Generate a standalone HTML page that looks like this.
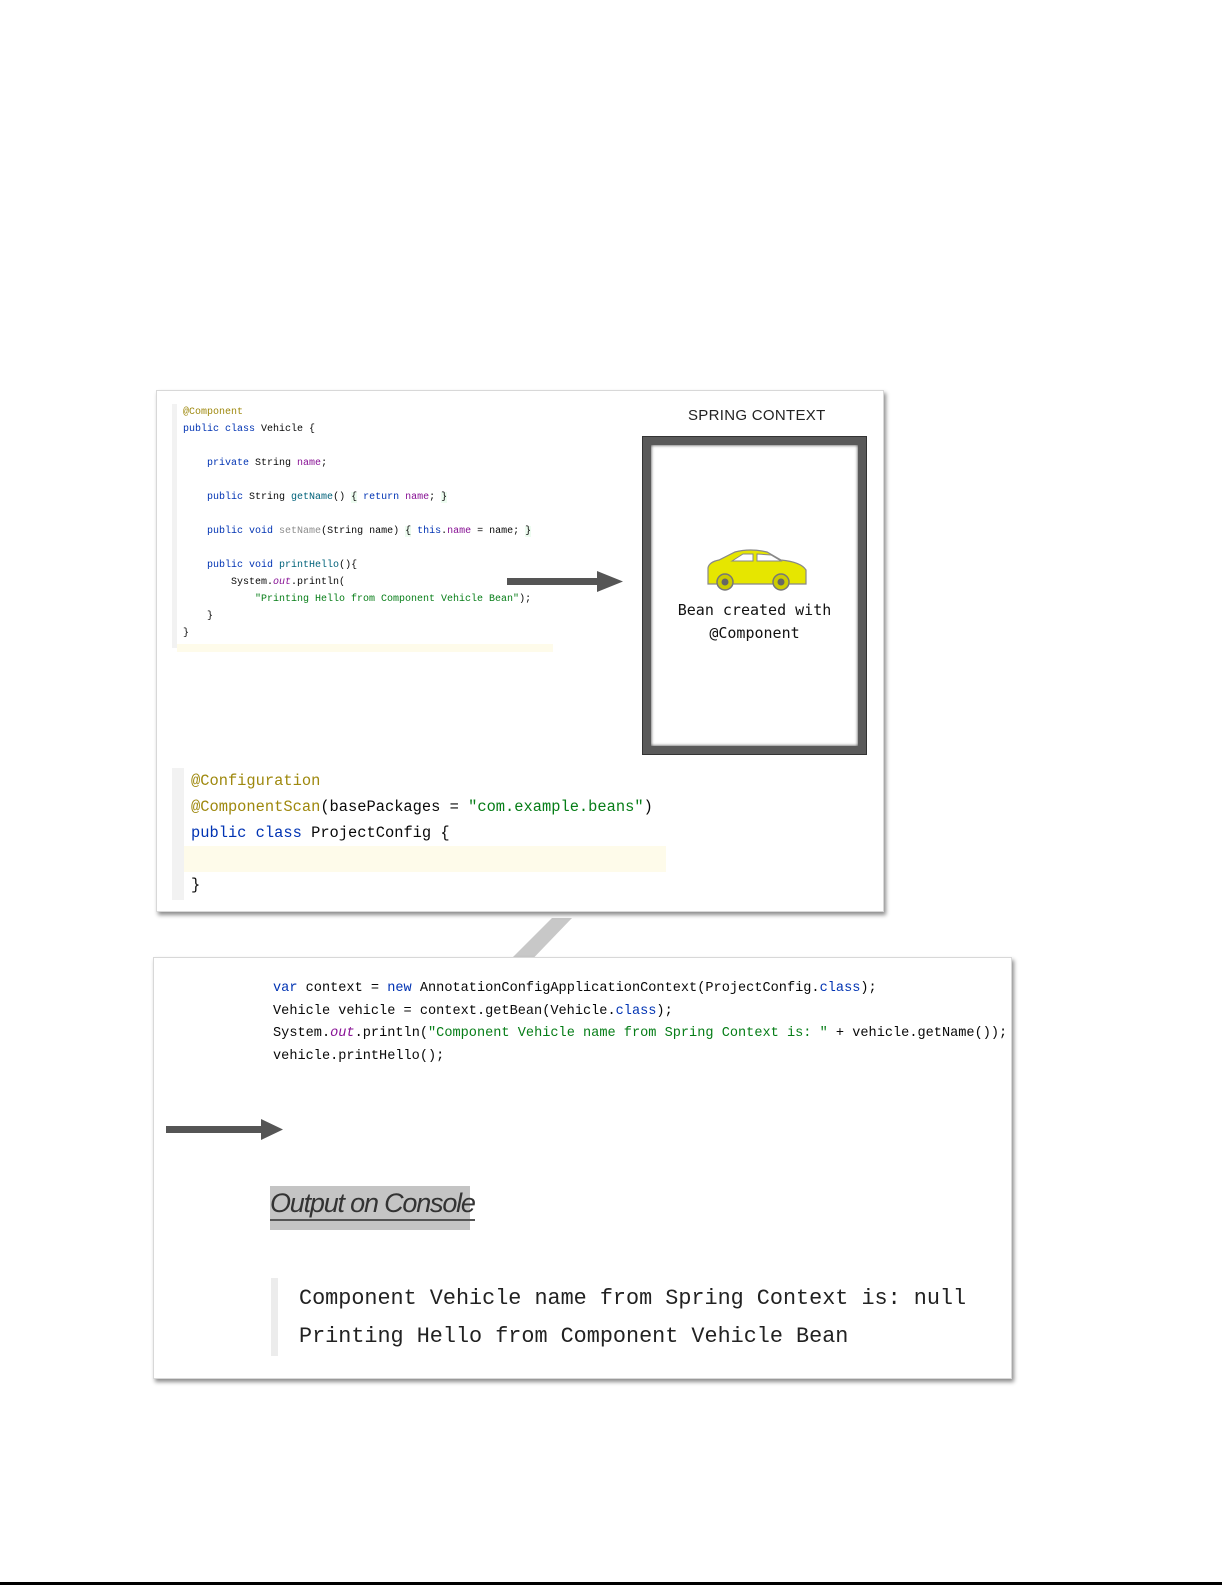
<!DOCTYPE html>
<html><head><meta charset="utf-8"><style>
*{margin:0;padding:0;box-sizing:border-box}
body{width:1225px;height:1585px;background:#fff;position:relative;overflow:hidden;font-family:"Liberation Mono",monospace;color:#080808}
.a{position:absolute;white-space:pre}
.k{color:#0033b3}.an{color:#9e880d}.f{color:#871094}.s{color:#067d17}.m{color:#00627a}.g{color:#8c8c8c}
.hl{background:#edfcf0}
.panel{position:absolute;background:#fff;box-shadow:2px 3px 4px rgba(0,0,0,.45);border:1px solid #d8d8d8}
</style></head><body>

<svg class="a" style="left:0;top:0" width="1225" height="1585">
<polygon points="552,918 572,918 522,970 500,970" fill="#c8c8c8"/>
</svg>

<div class="panel" style="left:156px;top:390px;width:728px;height:522px"></div>
<div class="a" style="left:172px;top:404px;width:5px;height:244px;background:#f2f2f2"></div>
<div class="a" style="left:177px;top:644px;width:376px;height:8px;background:#fefbea"></div>

<div class="a" style="left:183px;top:404px;font-size:10px;line-height:17px"><span class="an">@Component</span>
<span class="k">public class</span> Vehicle {

    <span class="k">private</span> String <span class="f">name</span>;

    <span class="k">public</span> String <span class="m">getName</span>() <span class="hl">{</span> <span class="k">return</span> <span class="f">name</span>; <span class="hl">}</span>

    <span class="k">public void</span> <span class="g">setName</span>(String name) <span class="hl">{</span> <span class="k">this</span>.<span class="f">name</span> = name; <span class="hl">}</span>

    <span class="k">public void</span> <span class="m">printHello</span>(){
        System.<span class="f"><i>out</i></span>.println(
            <span class="s">"Printing Hello from Component Vehicle Bean"</span>);
    }
}</div>

<svg class="a" style="left:500px;top:568px" width="130" height="30">
<rect x="7" y="10" width="90" height="7" fill="#555"/>
<polygon points="97,3 123,13.5 97,24" fill="#555"/>
</svg>

<div class="a" style="left:688px;top:407px;font-family:'Liberation Sans',sans-serif;font-size:15px;letter-spacing:0.3px;color:#222">SPRING CONTEXT</div>
<div class="a" style="left:643px;top:437px;width:223px;height:317px;border:8px solid #5a5a5a;outline:1px solid #333;box-shadow:inset 0 0 3px #333"></div>

<svg class="a" style="left:705px;top:548px" width="105" height="44">
<path d="M3,20 Q4,14 14,12 L30,4 Q45,0 62,4 L76,12 Q96,14 101,22 L101,36 L3,36 Z" fill="#e6e600" stroke="#888" stroke-width="1.2"/>
<path d="M27,13 L38,6 L48,6 L48,13 Z M52,6 L66,7 L76,13 L52,13 Z" fill="#fff" stroke="#888" stroke-width="1"/>
<circle cx="20" cy="34" r="8" fill="#cccc00" stroke="#777" stroke-width="1.5"/><circle cx="20" cy="34" r="3.5" fill="#666"/>
<circle cx="76" cy="34" r="8" fill="#cccc00" stroke="#777" stroke-width="1.5"/><circle cx="76" cy="34" r="3.5" fill="#666"/>
</svg>
<div class="a" style="left:643px;top:599px;width:223px;text-align:center;font-family:'DejaVu Sans Mono',monospace;font-size:15px;line-height:23px;color:#111">Bean created with
@Component</div>

<div class="a" style="left:172px;top:768px;width:12px;height:132px;background:#f2f2f2"></div>
<div class="a" style="left:184px;top:846px;width:482px;height:26px;background:#fefbea"></div>
<div class="a" style="left:191px;top:768px;font-size:15.4px;line-height:26px"><span class="an">@Configuration</span>
<span class="an">@ComponentScan</span>(basePackages = <span class="s">"com.example.beans"</span>)
<span class="k">public class</span> ProjectConfig {

}</div>

<div class="panel" style="left:153px;top:957px;width:859px;height:422px"></div>
<div class="a" style="left:273px;top:978px;font-size:13.6px;line-height:22.5px"><span class="k">var</span> context = <span class="k">new</span> AnnotationConfigApplicationContext(ProjectConfig.<span class="k">class</span>);
Vehicle vehicle = context.getBean(Vehicle.<span class="k">class</span>);
System.<span class="f"><i>out</i></span>.println(<span class="s">"Component Vehicle name from Spring Context is: "</span> + vehicle.getName());
vehicle.printHello();</div>

<svg class="a" style="left:160px;top:1115px" width="130" height="30">
<rect x="6" y="11" width="95" height="7" fill="#555"/>
<polygon points="101,4 123,14.5 101,25" fill="#555"/>
</svg>

<div class="a" style="left:270px;top:1186px;width:200px;height:44px;background:#c4c4c4"></div>
<div class="a" style="left:270px;top:1188px;font-family:'Liberation Sans',sans-serif;font-style:italic;font-size:27px;letter-spacing:-1.2px;color:#333;border-bottom:2px solid #555;line-height:31px">Output on Console</div>

<div class="a" style="left:271px;top:1278px;width:7px;height:78px;background:#ececec"></div>
<div class="a" style="left:299px;top:1280px;font-size:21.8px;line-height:38px;color:#222">Component Vehicle name from Spring Context is: null
Printing Hello from Component Vehicle Bean</div>

<div class="a" style="left:0;top:1582px;width:1222px;height:3px;background:#000"></div>
</body></html>
